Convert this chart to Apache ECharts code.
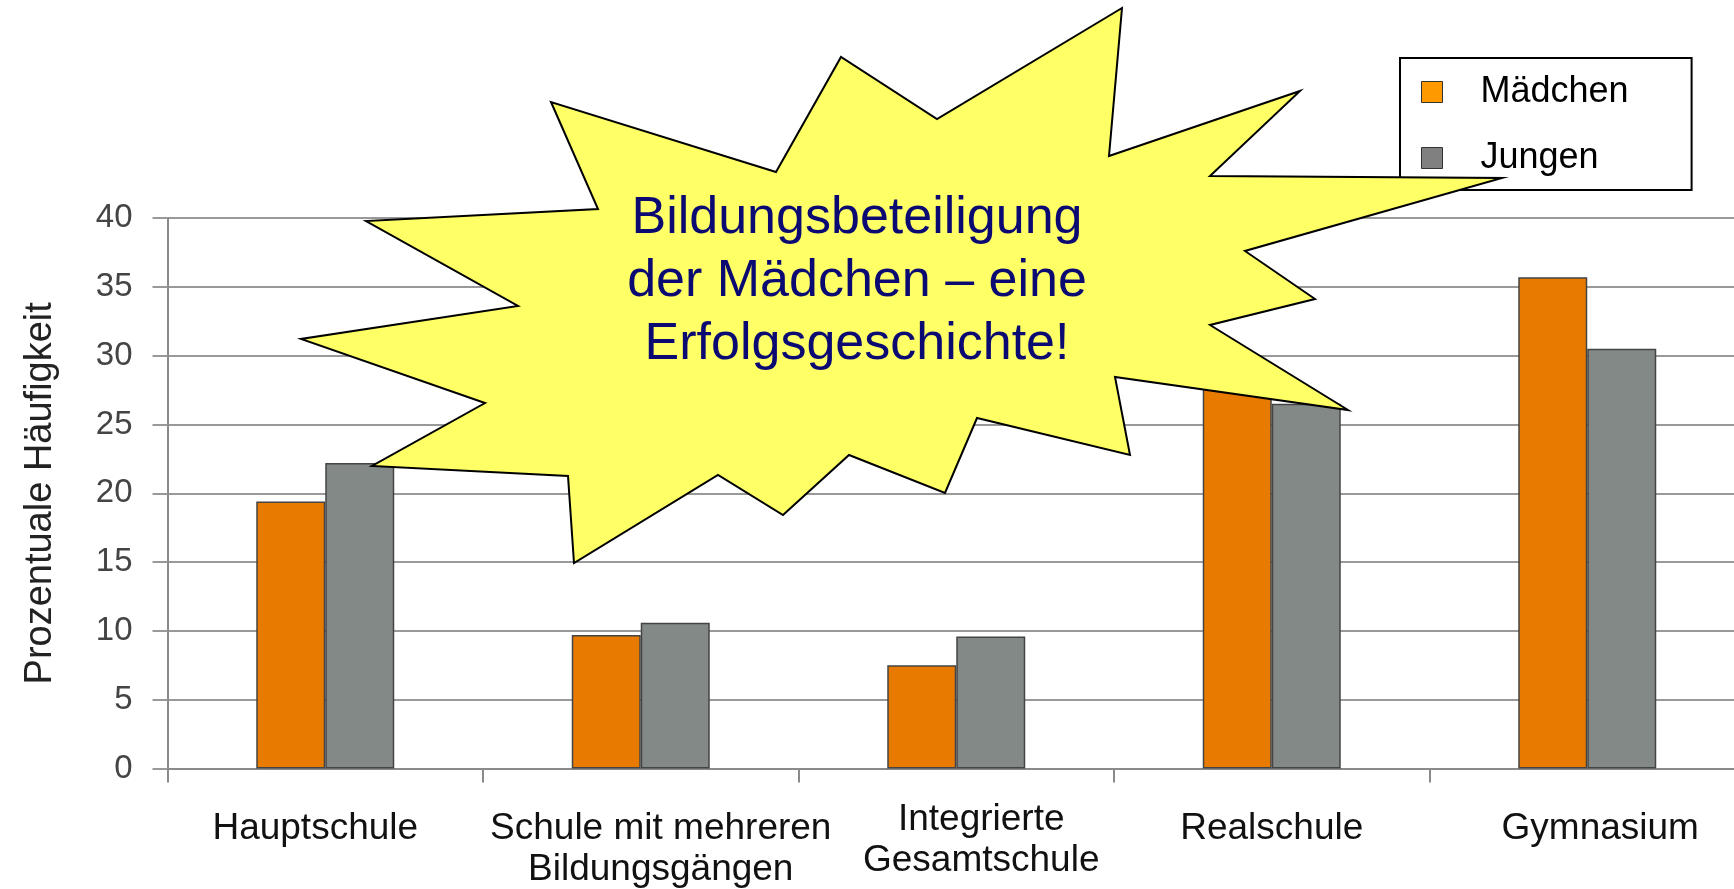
<!DOCTYPE html>
<html>
<head>
<meta charset="utf-8">
<title>Bildungsbeteiligung</title>
<script src="https://cdn.jsdelivr.net/npm/echarts@6/dist/echarts.min.js"></script>
<style>
    html, body { margin: 0; padding: 0; background: #fff; }
    #bar1 { width: 1734px; height: 889px; }
</style>
</head>
<body>
<div id="bar1"></div>
<script>
    // Daten
    const categories = ['Hauptschule', 'Schule mit mehreren\nBildungsgängen', 'Integrierte\nGesamtschule', 'Realschule', 'Gymnasium'];
    const legendData = ['Mädchen', 'Jungen'];
    const maedchen = [19.4, 9.7, 7.5, 28.0, 35.7];
    const jungen = [22.2, 10.6, 9.6, 26.5, 30.5];
    const yMin = 0, yMax = 40, yStep = 5;

    const fontFam = '"Liberation Sans", Arial, Helvetica, sans-serif';
    const colorList = ['#E87A00', '#838987'];
    const legendColor = ['#FF9900', '#808080'];

    // Stern (Dekoration)
    const starPoints = [
        [1122, 8], [1109, 156], [1300, 91], [1210, 176], [1502, 178], [1245, 251],
        [1315, 299], [1210, 325], [1348, 410], [1115, 377], [1130, 455], [977, 418],
        [945, 493], [849, 455], [783, 515], [718, 475], [574, 563], [568, 476],
        [372, 466], [485, 403], [301, 339], [518, 306], [366, 221], [598, 209],
        [551, 102], [776, 172], [841, 57], [937, 119]
    ];

    // Beschriftungen sitzen im Original nicht ganz mittig
    const labelPad = [
        [9, 20, 0, 0],
        [9, 0, 0, 40],
        [0, 0, 0, 50],
        [9, 0, 0, 0],
        [9, 0, 0, 26]
    ];
    let xData = categories.map(function (c, i) {
        return { value: c, textStyle: { padding: labelPad[i] } };
    });

    let _option = {
        animation: false,
        backgroundColor: '#fff',
        textStyle: { fontFamily: fontFam },
        legend: {
            orient: 'vertical',
            left: 1400,
            top: 58,
            padding: [16, 63, 14, 21],
            itemGap: 30,
            itemWidth: 21,
            itemHeight: 21,
            borderColor: '#000',
            borderWidth: 2,
            backgroundColor: '#fff',
            icon: 'rect',
            textStyle: {
                fontFamily: fontFam,
                fontSize: 36,
                lineHeight: 36,
                color: '#000',
                padding: [0, 0, 0, 33]
            },
            data: legendData.map(function (n, i) {
                return { name: n, itemStyle: { color: legendColor[i], borderColor: '#333', borderWidth: 1 } };
            })
        },
        grid: {
            left: 167.5,
            width: 1577.5,
            top: 218,
            bottom: 120.4,
            outerBoundsMode: 'none',
            containLabel: false
        },
        xAxis: {
            type: 'category',
            data: xData,
            axisLine: { lineStyle: { color: '#8a8a8a', width: 2 } },
            axisTick: { show: true, length: 14, lineStyle: { color: '#8a8a8a', width: 2 } },
            axisLabel: {
                interval: 0,
                margin: 31,
                fontFamily: fontFam,
                fontSize: 37,
                lineHeight: 41,
                verticalAlign: 'top',
                color: '#111'
            },
            splitLine: { show: false }
        },
        yAxis: {
            type: 'value',
            min: yMin,
            max: yMax,
            interval: yStep,
            name: 'Prozentuale Häufigkeit',
            nameLocation: 'middle',
            nameRotate: 90,
            nameGap: 108,
            nameTextStyle: { fontFamily: fontFam, fontSize: 38, color: '#222' },
            axisLine: { show: true, lineStyle: { color: '#8a8a8a', width: 2 } },
            axisTick: { show: true, length: 15, lineStyle: { color: '#999', width: 2 } },
            axisLabel: { margin: 35, fontFamily: fontFam, fontSize: 33, color: '#444' },
            splitLine: { show: true, lineStyle: { color: '#999', width: 2 } }
        },
        series: [],
        graphic: [
            {
                type: 'polygon',
                z: 100,
                shape: { points: starPoints },
                style: { fill: '#FFFF66', stroke: '#000', lineWidth: 2 }
            },
            {
                type: 'text',
                z: 101,
                x: 857,
                y: 282,
                style: {
                    text: 'Bildungsbeteiligung\nder Mädchen – eine\nErfolgsgeschichte!',
                    fontFamily: fontFam,
                    fontSize: 52,
                    lineHeight: 63,
                    fill: '#0A0A72',
                    align: 'center',
                    verticalAlign: 'middle'
                }
            }
        ]
    };

    let seriesData = [maedchen, jungen];
    for (let i = 0; i < seriesData.length; i++) {
        _option.series.push({
            name: legendData[i],
            type: 'bar',
            data: seriesData[i],
            barWidth: 69,
            barGap: '0%',
            itemStyle: { color: colorList[i], borderColor: '#444', borderWidth: 1.5 }
        });
    }

    let myChart = echarts.init(document.getElementById('bar1'), null, { renderer: 'canvas' });
    myChart.setOption(_option);
</script>
</body>
</html>
